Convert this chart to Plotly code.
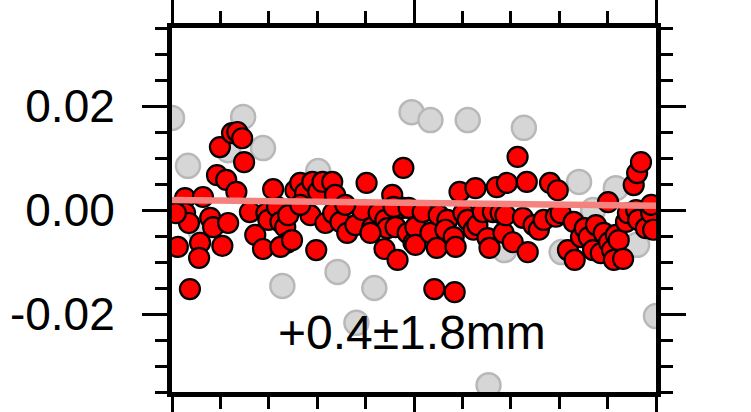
import plotly.graph_objects as go

# x in percent of the time span (axis unlabeled), y in mm
red_x = [2.7, 6.4, 2.7, 3.5, 1.2, 5.8, 5.6, 3.7, 7.9, 8.5, 11.6, 10.4, 9.3, 11.2, 13.3, 9.9,
         12.4, 13.5, 14.5, 14.9, 16.1, 17.2, 18.8, 19.5, 19.9, 21.7, 22.4, 23.4, 23.8, 22.4,
         20.9, 24.0, 24.8, 25.5, 26.5, 27.5, 29.0, 28.6, 30.2, 31.1, 31.7, 33.1, 33.7, 29.8,
         33.3, 34.8, 36.2, 37.9, 39.3, 40.2, 41.4, 42.7, 44.1, 44.5, 43.9, 45.5, 46.2, 46.6,
         47.8, 48.7, 49.9, 45.8, 47.8, 41.0, 48.9, 50.3, 50.3, 51.8, 53.4, 54.7, 54.2, 58.4,
         55.1, 56.9, 56.5, 58.2, 58.6, 59.4, 60.2, 61.1, 62.3, 62.7, 63.1, 64.2, 65.2, 65.6,
         66.3, 67.1, 67.9, 68.5, 69.2, 68.9, 70.4, 71.4, 72.5, 73.5, 73.3, 74.7, 75.8, 76.8,
         78.1, 79.3, 79.7, 80.3, 81.8, 83.0, 83.2, 84.5, 85.3, 86.1, 87.0, 87.6, 88.6, 89.2,
         90.1, 90.3, 90.9, 91.3, 91.7, 92.3, 93.2, 93.8, 94.2, 95.4, 96.1, 96.9, 95.9, 96.3,
         97.9, 99.0, 99.0, 99.4, 0.8, 26.5, 35.8]
red_y = [2.3, 2.5, -0.6, -2.5, -7.1, -6.3, -9.2, -15.2, -1.5, -3.3, -2.5, -6.9, 6.7, 5.8, 3.5, 12.1,
         14.8, 15.0, 13.8, 9.2, -0.4, -4.8, -7.5, -0.6, -1.9, 0.6, -2.3, -3.3, -6.3, -7.1,
         4.0, -1.0, -5.8, 3.8, 5.2, 3.3, 5.4, -1.0, 3.5, 5.4, -2.5, 5.4, 2.9, -7.7,
         -0.6, -2.3, -4.4, -2.9, 0.0, 5.2, -3.3, -0.6, -1.9, -3.5, -7.5, 2.9, -3.3, -9.6,
         0.4, -4.4, -6.3, 0.6, 8.1, -4.4, 0.4, -3.3, -6.7, -0.4, -4.4, -7.3, -15.2, -15.8,
         -1.0, -1.9, -3.8, -5.2, -7.1, 3.5, -0.6, -1.9, -3.8, 4.2, -2.9, -0.4, -5.4, -7.3,
         -0.4, 4.4, -0.6, -4.4, 5.2, -1.0, -6.2, 10.2, -1.5, -8.1, 5.4, -2.9, -3.8, -1.9,
         5.2, -1.3, 3.8, -0.6, -7.7, -2.3, -9.6, -5.2, -3.5, -5.2, -7.7, -2.9, -8.3, -4.4,
         1.5, -6.2, -7.7, -9.6, -4.8, -5.8, -9.4, -2.3, -0.6, 4.8, 7.1, 9.2, 0.0, -1.9,
         -3.5, -0.6, 1.0, -3.8, -0.6, 1.0, 1.0]

gray_x = [0.0, 3.3, 14.7, 18.8, 11.6, 30.2, 49.5, 53.4, 61.1, 72.7, 84.1, 91.7, 96.1, 80.5,
          68.7, 100.0, 65.4, 22.8, 34.2, 41.8, 38.1, 5.8, 87.0]
gray_y = [17.7, 8.5, 17.9, 11.9, 11.5, 7.5, 18.8, 17.3, 17.3, 15.8, 5.4, 4.2, -6.7, -8.1,
          -7.7, -20.4, -33.7, -14.6, -11.9, -15.0, -21.7, -3.8, 0.0]

trend_x = [0, 100]
trend_y = [1.9, 0.8]

y_tickvals = [-0.02, 0.0, 0.02]
y_ticktext = ["-0.02", "0.00", "0.02"]
label_text = "+0.4±1.8mm"

mm = lambda v: [a / 1000.0 for a in v]

fig = go.Figure()
fig.add_trace(go.Scatter(x=gray_x, y=mm(gray_y), mode="markers",
                         marker=dict(size=24, color="#d6d6d6",
                                     line=dict(color="#b8b8b8", width=2.5)),
                         cliponaxis=True, hoverinfo="skip"))
fig.add_trace(go.Scatter(x=red_x, y=mm(red_y), mode="markers",
                         marker=dict(size=20, color="#ff0000",
                                     line=dict(color="black", width=2.2)),
                         cliponaxis=True, hoverinfo="skip"))
fig.add_trace(go.Scatter(x=trend_x, y=mm(trend_y), mode="lines",
                         line=dict(color="#f4837f", width=6.5), hoverinfo="skip"))

fig.add_annotation(x=49.5, y=-0.0235, text=label_text, showarrow=False,
                   font=dict(family="Liberation Sans, Arial", size=48, color="black"),
                   xanchor="center", yanchor="middle")

fig.update_layout(
    width=751, height=412,
    margin=dict(l=172, r=95, t=28, b=20, autoexpand=False),
    paper_bgcolor="white", plot_bgcolor="white",
    showlegend=False,
    font=dict(family="Liberation Sans, Arial", size=46, color="black"),
)
fig.update_xaxes(range=[0, 100], tickmode="array", tickvals=[0, 50, 100],
                 showticklabels=False, ticks="outside", ticklen=25, tickwidth=3,
                 tickcolor="black", showline=True, linewidth=5, linecolor="black",
                 mirror="allticks", showgrid=False, zeroline=False, automargin=False,
                 minor=dict(tickmode="linear", tick0=0, dtick=10, ticks="outside",
                            ticklen=12, tickwidth=3, tickcolor="black", showgrid=False))
fig.update_yaxes(range=[-0.035, 0.035], tickmode="array", tickvals=y_tickvals,
                 ticktext=y_ticktext, ticks="outside", ticklen=25, tickwidth=3,
                 tickcolor="black", showline=True, linewidth=5, linecolor="black",
                 mirror="allticks", showgrid=False, zeroline=False, automargin=False,
                 ticklabelstandoff=18, tickfont=dict(size=46),
                 minor=dict(tickmode="linear", tick0=0, dtick=0.005, ticks="outside",
                            ticklen=12, tickwidth=3, tickcolor="black", showgrid=False))

fig.write_html("out.html")
